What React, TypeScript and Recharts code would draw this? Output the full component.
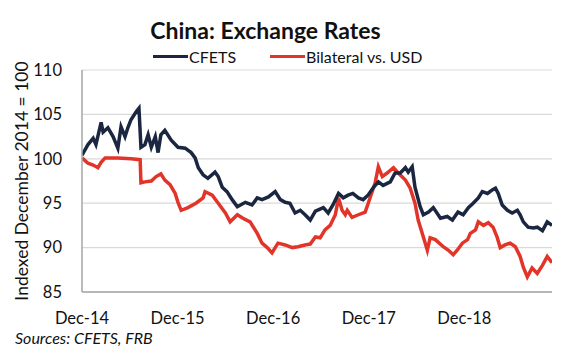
import React from 'react';
import { LineChart, Line, XAxis, YAxis, CartesianGrid } from 'recharts';

// months since Dec 2014
const cfetsMonths = [
  0, 0.75, 1.4, 1.75, 2.4, 2.65, 3.25, 3.9, 4.5, 4.9, 5.4, 5.8, 6.15, 6.8, 7.15, 7.4, 7.9, 8.3, 8.7, 9.2,
  9.55, 9.9, 10.4, 11.2, 12.05, 12.95, 13.7, 14.2, 14.6, 15.2, 15.8, 16.7, 17.1, 17.6, 18.2, 18.85, 19.5,
  20.5, 21.35, 22, 22.6, 23.4, 24.25, 24.9, 25.5, 26.1, 26.75, 27.4, 28, 28.65, 29.3, 30.3, 30.9, 31.5,
  32.2, 32.8, 33.4, 34, 34.7, 35.3, 35.9, 36.6, 37.2, 37.8, 38.7, 39.3, 39.95, 40.6, 40.95, 41.45, 41.8,
  42.45, 42.85, 43.5, 44.1, 45, 45.85, 46.5, 47.2, 47.85, 48.5, 49.1, 49.75, 50.25, 50.9, 51.5, 51.9,
  52.25, 52.75, 53.4, 54, 54.65, 55, 55.4, 56, 56.65, 57.15, 57.8, 58.4, 59,
];
const cfetsValues = [
  100.4, 101.6, 102.3, 101.6, 104.1, 103.0, 103.5, 102.5, 101.2, 103.6, 102.5, 103.6, 104.4, 105.3, 105.7,
  101.3, 101.6, 102.7, 101.3, 102.5, 100.7, 102.7, 103.2, 102.1, 101.3, 101.2, 100.7, 100.1, 99.0, 98.2,
  97.8, 98.5, 98.0, 96.8, 96.3, 95.4, 94.6, 95.1, 94.8, 95.6, 95.4, 95.7, 96.3, 95.4, 95.1, 95.0, 93.9,
  94.2, 93.7, 93.1, 94.1, 94.5, 93.9, 94.8, 96.1, 95.6, 95.9, 96.1, 95.6, 95.4, 95.9, 96.8, 97.4, 97.0,
  97.4, 98.4, 98.4, 99.0, 98.5, 99.1, 96.8, 94.6, 93.7, 94.0, 94.5, 93.3, 93.5, 93.1, 94.0, 93.7, 94.5,
  95.0, 95.6, 96.3, 96.1, 96.5, 96.7, 96.1, 94.8, 94.2, 93.9, 94.2, 93.7, 92.9, 92.3, 92.2, 92.3, 91.9,
  92.9, 92.5,
];

const usdMonths = [
  0, 0.75, 1.4, 2, 2.4, 2.9, 4.5, 6.15, 7.3, 7.4, 7.9, 8.7, 9.3, 9.9, 10.4, 11.05, 11.7, 12.05, 12.45,
  13.3, 14.3, 15.2, 15.45, 16.35, 17.1, 18, 18.6, 19.5, 20.2, 21.1, 22, 22.6, 23.25, 23.85, 24.6, 25.5,
  26.4, 27.1, 28, 28.65, 29.3, 29.9, 30.5, 31.15, 31.8, 32.2, 32.65, 33.05, 33.3, 33.9, 34.7, 35.55, 36.2,
  36.8, 37.2, 37.7, 38.3, 39.1, 39.7, 40.6, 41.2, 41.8, 42.2, 42.85, 43.35, 43.7, 44.35, 45.35, 46, 46.6,
  47.1, 47.75, 48.4, 48.75, 49.4, 49.75, 50.4, 51, 51.6, 52.1, 52.5, 53.1, 53.75, 54.4, 55, 55.4, 55.9,
  56.5, 57.15, 57.8, 58.4, 59,
];
const usdValues = [
  100.1, 99.5, 99.3, 99.0, 99.6, 100.1, 100.1, 100.0, 99.9, 97.3, 97.4, 97.5, 98.0, 98.3, 97.6, 97.1, 96.1,
  95.1, 94.2, 94.5, 95.0, 95.6, 96.3, 95.9, 95.0, 93.9, 92.9, 93.7, 93.3, 92.9, 91.6, 90.5, 90.0, 89.4,
  90.5, 90.3, 90.0, 90.1, 90.3, 90.4, 91.2, 91.1, 92.0, 92.5, 93.7, 95.6, 94.2, 93.7, 94.2, 93.4, 93.7,
  94.0, 95.7, 97.3, 99.1, 98.0, 98.4, 99.0, 98.4, 97.6, 96.7, 95.0, 93.1, 91.2, 89.7, 91.1, 90.9, 90.1,
  89.7, 89.2, 89.7, 90.5, 90.9, 91.6, 92.0, 92.9, 92.5, 92.8, 92.3, 91.2, 90.0, 90.3, 90.5, 90.1, 89.0,
  87.8, 86.7, 87.7, 87.1, 88.0, 89.0, 88.3,
];

const xTicks = [0, 12, 24, 36, 48];
const xTickLabels = ['Dec-14', 'Dec-15', 'Dec-16', 'Dec-17', 'Dec-18'];
const yTicks = [85, 90, 95, 100, 105, 110];

const cfetsData = cfetsMonths.map((m, i) => ({ m, v: cfetsValues[i] }));
const usdData = usdMonths.map((m, i) => ({ m, v: usdValues[i] }));

const FONT = 'Lato, "Open Sans", sans-serif';
const NAVY = '#1b2640';
const RED = '#e2352a';

const App: React.FC = () => {
  return (
    <div style={{ position: 'absolute', left: 0, top: 0, width: 567, height: 351, background: '#fff', fontFamily: FONT }}>
      <div style={{ position: 'absolute', left: 0, width: 531, top: 19, fontSize: 23, lineHeight: '23px', fontWeight: 700, textAlign: 'center', color: '#111' }}>
        China: Exchange Rates
      </div>
      {/* legend */}
      <div style={{ position: 'absolute', left: 153, top: 49, width: 35, height: 3, background: NAVY, marginTop: 6 }} />
      <div style={{ position: 'absolute', left: 189, top: 49, fontSize: 16, lineHeight: '16px', color: '#111' }}>CFETS</div>
      <div style={{ position: 'absolute', left: 270, top: 49, width: 35, height: 3, background: RED, marginTop: 6 }} />
      <div style={{ position: 'absolute', left: 306, top: 49, fontSize: 16, lineHeight: '16px', color: '#111' }}>Bilateral vs. USD</div>

      <LineChart width={567} height={351} margin={{ top: 70, right: 15, bottom: 29, left: 0 }}>
        <CartesianGrid horizontal vertical={false} stroke="#d9d9d9" strokeWidth={1.2} />
        <XAxis
          type="number"
          dataKey="m"
          domain={[0, 59]}
          ticks={xTicks}
          height={30}
          tickFormatter={(t: number) => xTickLabels[xTicks.indexOf(t)] ?? ''}
          tickLine={false}
          tickSize={0}
          tickMargin={20}
          axisLine={{ stroke: '#a6a6a6', strokeWidth: 1.5 }}
          tick={{ fontSize: 16.5, fill: '#111', fontFamily: FONT }}
          allowDataOverflow
        />
        <YAxis
          type="number"
          domain={[85, 110]}
          ticks={yTicks}
          width={82}
          tickLine={false}
          tickSize={0}
          tickMargin={20}
          axisLine={{ stroke: '#a6a6a6', strokeWidth: 1.5 }}
          tick={{ fontSize: 16.5, fill: '#111', fontFamily: FONT }}
          label={{
            value: 'Indexed December 2014 = 100',
            angle: -90,
            position: 'insideLeft',
            offset: 22,
            style: { fontSize: 17.5, fill: '#111', fontFamily: FONT, textAnchor: 'middle' },
          }}
        />
        <Line data={usdData} dataKey="v" type="linear" stroke={RED} strokeWidth={3.5} dot={false} isAnimationActive={false} />
        <Line data={cfetsData} dataKey="v" type="linear" stroke={NAVY} strokeWidth={3.5} dot={false} isAnimationActive={false} />
      </LineChart>

      <div style={{ position: 'absolute', left: 15, top: 330, fontSize: 16, lineHeight: '16px', fontStyle: 'italic', color: '#111' }}>
        Sources: CFETS, FRB
      </div>
    </div>
  );
};

export default App;
